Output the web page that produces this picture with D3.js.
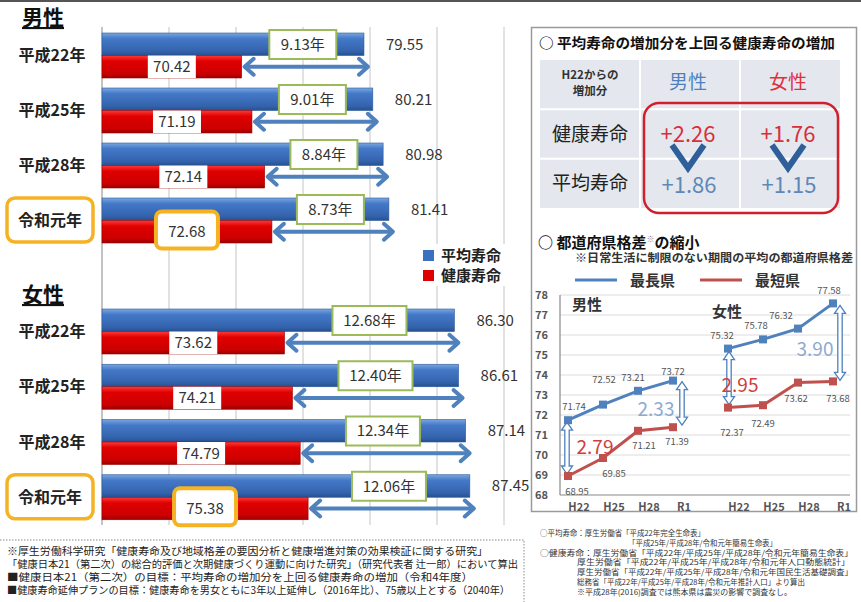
<!DOCTYPE html>
<html>
<head>
<meta charset="utf-8">
<script src="https://cdn.jsdelivr.net/npm/d3@7"></script>
<style>
  body { margin: 0; background: #fff; }
  svg { display: block; font-family: "Noto Sans CJK JP", "Noto Sans", sans-serif; }
</style>
</head>
<body>
<div id="chart"></div>
<script>
// ---- data: bar chart (left)
const years = ["平成22年", "平成25年", "平成28年", "令和元年"];
const maleAvg = [79.55, 80.21, 80.98, 81.41];
const maleHealthy = [70.42, 71.19, 72.14, 72.68];
const maleGap = [9.13, 9.01, 8.84, 8.73];
const femaleAvg = [86.30, 86.61, 87.14, 87.45];
const femaleHealthy = [73.62, 74.21, 74.79, 75.38];
const femaleGap = [12.68, 12.40, 12.34, 12.06];
const xTicks = [60, 65, 70, 75, 80, 85, 90];

// ---- data: table (top right)
const tableCols = ["男性", "女性"];
const tableRows = ["健康寿命", "平均寿命"];
const incHealthy = ["+2.26", "+1.76"];
const incAvg = ["+1.86", "+1.15"];

// ---- data: line chart (bottom right)
const periods = ["H22", "H25", "H28", "R1"];
const maleLongest = [71.74, 72.52, 73.21, 73.72];
const maleShortest = [68.95, 69.85, 71.21, 71.39];
const femaleLongest = [75.32, 75.78, 76.32, 77.58];
const femaleShortest = [72.37, 72.49, 73.62, 73.68];
const yTicks = [68, 69, 70, 71, 72, 73, 74, 75, 76, 77, 78];

const notesLeft = [
  "※厚生労働科学研究「健康寿命及び地域格差の要因分析と健康増進対策の効果検証に関する研究」",
  "「健康日本21（第二次）の総合的評価と次期健康づくり運動に向けた研究」（研究代表者 辻一郎）において算出",
  "■健康日本21（第二次）の目標：平均寿命の増加分を上回る健康寿命の増加（令和4年度）",
  "■健康寿命延伸プランの目標：健康寿命を男女ともに3年以上延伸し（2016年比）、75歳以上とする（2040年）"
];
const notesRight = [
  "○平均寿命：厚生労働省「平成22年完全生命表」",
  "「平成25年/平成28年/令和元年簡易生命表」",
  "○健康寿命：厚生労働省「平成22年/平成25年/平成28年/令和元年簡易生命表」",
  "厚生労働省「平成22年/平成25年/平成28年/令和元年人口動態統計」",
  "厚生労働省「平成22年/平成25年/平成28年/令和元年国民生活基礎調査」",
  "総務省「平成22年/平成25年/平成28年/令和元年推計人口」より算出",
  "※平成28年(2016)調査では熊本県は震災の影響で調査なし。"
];

const W = 861, H = 602;
const svg = d3.select("#chart").append("svg").attr("width", W).attr("height", H);
const defs = svg.append("defs");
function grad(id, stops) {
  const g = defs.append("linearGradient").attr("id", id)
    .attr("x1", 0).attr("y1", 0).attr("x2", 0).attr("y2", 1);
  stops.forEach(s => g.append("stop").attr("offset", s[0]).attr("stop-color", s[1]));
}
grad("gBlue", [[0, "#7aa6e0"], [0.25, "#4479c8"], [0.8, "#3463ad"], [1, "#26508f"]]);
grad("gRed", [[0, "#ff3a3a"], [0.25, "#e00000"], [0.8, "#cc0000"], [1, "#9a0000"]]);

svg.append("rect").attr("x", 0).attr("y", 0).attr("width", W).attr("height", 2).attr("fill", "#555");

// ================= left: bar chart =================
const x = d3.scaleLinear().domain([60, 90]).range([102, 504]);

svg.append("g").selectAll("line").data(xTicks).join("line")
  .attr("x1", d => x(d)).attr("x2", d => x(d))
  .attr("y1", 27).attr("y2", 525)
  .attr("stroke", d => d === 60 ? "#888" : "#c4c4c4").attr("stroke-width", 1);

// legend (white box hides grid lines)
svg.append("rect").attr("x", 418).attr("y", 244).attr("width", 98).attr("height", 42).attr("fill", "#fff");
[["平均寿命", "#3a70c0", 256], ["健康寿命", "#dd0000", 276]].forEach(l => {
  svg.append("rect").attr("x", 423).attr("y", l[2] - 6).attr("width", 11).attr("height", 11).attr("fill", l[1]);
  svg.append("text").attr("x", 441).attr("y", l[2] + 5).attr("font-size", 15).attr("font-weight", "bold")
    .attr("fill", "#222").text(l[0]);
});

const sections = [
  { title: "男性", titleY: 25, avg: maleAvg, healthy: maleHealthy, gap: maleGap, range: [33, 253] },
  { title: "女性", titleY: 302, avg: femaleAvg, healthy: femaleHealthy, gap: femaleGap, range: [309, 530] }
];

function arrowHead(g, px, py, dir) {
  g.append("polyline")
    .attr("points", `${px - dir * 9},${py - 8} ${px},${py} ${px - dir * 9},${py + 8}`)
    .attr("fill", "none").attr("stroke", "#4f81bd").attr("stroke-width", 4)
    .attr("stroke-linecap", "round").attr("stroke-linejoin", "round");
}

sections.forEach(sec => {
  const y = d3.scaleBand().domain(years).range(sec.range);
  const bh = 22.5;
  const g = svg.append("g");

  // title
  g.append("text").attr("x", 22).attr("y", sec.titleY).attr("font-size", 21).attr("font-weight", "bold")
    .attr("fill", "#111").attr("text-decoration", "underline").text(sec.title);

  years.forEach((yr, i) => {
    const y0 = y(yr);
    const last = i === years.length - 1;
    // category label
    if (last) {
      g.append("rect").attr("x", 7).attr("y", y0).attr("width", 86).attr("height", 44).attr("rx", 8)
        .attr("fill", "#fff").attr("stroke", "#f5b324").attr("stroke-width", 3.5);
    }
    g.append("text").attr("x", last ? 50 : 52).attr("y", y0 + bh).attr("dy", "0.35em")
      .attr("text-anchor", "middle").attr("font-size", 16).attr("font-weight", "bold").attr("fill", "#222")
      .text(yr);

    // bars
    g.append("rect").attr("x", x(60)).attr("y", y0).attr("width", x(sec.avg[i]) - x(60)).attr("height", bh)
      .attr("fill", "url(#gBlue)").attr("stroke", "#2d5a9a").attr("stroke-width", 0.6);
    g.append("rect").attr("x", x(60)).attr("y", y0 + bh).attr("width", x(sec.healthy[i]) - x(60)).attr("height", bh)
      .attr("fill", "url(#gRed)").attr("stroke", "#990000").attr("stroke-width", 0.6);

    // avg value
    g.append("text").attr("x", x(sec.avg[i]) + 22).attr("y", y0 + bh / 2).attr("dy", "0.35em")
      .attr("font-size", 15).attr("fill", "#333").text(sec.avg[i].toFixed(2));

    // healthy value box
    const hc = (x(60) + x(sec.healthy[i])) / 2;
    if (last) {
      g.append("rect").attr("x", hc - 31).attr("y", y0 + bh - 9).attr("width", 62).attr("height", 37).attr("rx", 6)
        .attr("fill", "#fff").attr("stroke", "#f5b324").attr("stroke-width", 4);
    }
    g.append("rect").attr("x", hc - 24).attr("y", y0 + bh).attr("width", 48).attr("height", bh).attr("fill", "#fff");
    g.append("text").attr("x", hc).attr("y", y0 + bh * 1.5).attr("dy", "0.36em").attr("text-anchor", "middle")
      .attr("font-size", 15).attr("fill", "#333").text(sec.healthy[i].toFixed(2));

    // gap arrow
    const ay = y0 + bh * 1.5;
    const ax1 = x(sec.healthy[i]) + 3, ax2 = x(sec.avg[i]) + 4;
    g.append("line").attr("x1", ax1 + 2).attr("x2", ax2 - 2).attr("y1", ay).attr("y2", ay)
      .attr("stroke", "#4f81bd").attr("stroke-width", 4);
    arrowHead(g, ax1, ay, -1);
    arrowHead(g, ax2, ay, 1);

    // gap label box
    const gc = (x(sec.healthy[i]) + x(sec.avg[i])) / 2;
    const gw = sec.gap[i] >= 10 ? 74 : 67;
    g.append("rect").attr("x", gc - gw / 2).attr("y", y0 - 3).attr("width", gw).attr("height", 29)
      .attr("fill", "#fff").attr("stroke", "#9bbb59").attr("stroke-width", 2);
    g.append("text").attr("x", gc).attr("y", y0 + 11.5).attr("dy", "0.36em").attr("text-anchor", "middle")
      .attr("font-size", 15).attr("fill", "#333").text(sec.gap[i].toFixed(2) + "年");
  });
});

// dotted footnote frame + notes
svg.append("path").attr("d", "M0,540 H524 V602").attr("fill", "none")
  .attr("stroke", "#888").attr("stroke-width", 1).attr("stroke-dasharray", "1.5,1.5");
const nlW = [481, 511, 466, 503];
notesLeft.forEach((t, i) => {
  svg.append("text").attr("x", 7).attr("y", 555 + i * 13).attr("font-size", 10.3).attr("fill", "#222")
    .attr("textLength", nlW[i]).attr("lengthAdjust", "spacingAndGlyphs").text(t);
});

// ================= right panel =================
svg.append("rect").attr("x", 531.5).attr("y", 27.5).attr("width", 325).attr("height", 484)
  .attr("fill", "#fff").attr("stroke", "#9a9a9a").attr("stroke-width", 1.5);

svg.append("text").attr("x", 539).attr("y", 48).attr("font-size", 14).attr("font-weight", "bold")
  .attr("fill", "#111").attr("textLength", 296).attr("lengthAdjust", "spacingAndGlyphs")
  .text("○ 平均寿命の増加分を上回る健康寿命の増加");

// table
const colX = d3.scaleBand().domain(["head"].concat(tableCols)).range([540, 840]);
const rowY = d3.scaleBand().domain(["head"].concat(tableRows)).range([60, 208]);
const tg = svg.append("g");
tg.append("rect").attr("x", 540).attr("y", 60).attr("width", 300).attr("height", 148).attr("fill", "#e4e8ee");
colX.domain().slice(1).forEach(c => tg.append("line").attr("x1", colX(c)).attr("x2", colX(c))
  .attr("y1", 60).attr("y2", 208).attr("stroke", "#fff").attr("stroke-width", 2));
rowY.domain().slice(1).forEach(r => tg.append("line").attr("x1", 540).attr("x2", 840)
  .attr("y1", rowY(r)).attr("y2", rowY(r)).attr("stroke", "#fff").attr("stroke-width", 2));
const hx = colX("head") + colX.bandwidth() / 2;
tg.append("text").attr("x", hx).attr("y", 79).attr("text-anchor", "middle").attr("font-size", 11.5)
  .attr("font-weight", "bold").attr("fill", "#333").text("H22からの");
tg.append("text").attr("x", hx).attr("y", 95).attr("text-anchor", "middle").attr("font-size", 11.5)
  .attr("font-weight", "bold").attr("fill", "#333").text("増加分");
const headColors = ["#4f81bd", "#e0303a"];
tableCols.forEach((c, i) => {
  tg.append("text").attr("x", colX(c) + colX.bandwidth() / 2 - 2).attr("y", 89).attr("text-anchor", "middle")
    .attr("font-size", 19).attr("fill", headColors[i]).text(c);
});
tableRows.forEach(r => {
  tg.append("text").attr("x", hx).attr("y", rowY(r) + rowY.bandwidth() / 2 + 7).attr("text-anchor", "middle")
    .attr("font-size", 19).attr("fill", "#222").text(r);
});
tableCols.forEach((c, i) => {
  const cx = colX(c) + colX.bandwidth() / 2 - 2;
  tg.append("text").attr("x", cx).attr("y", rowY("健康寿命") + rowY.bandwidth() / 2 + 8).attr("text-anchor", "middle")
    .attr("font-size", 22).attr("fill", "#d8303a").text(incHealthy[i]);
  tg.append("text").attr("x", cx + 1).attr("y", rowY("平均寿命") + rowY.bandwidth() / 2 + 10).attr("text-anchor", "middle")
    .attr("font-size", 22).attr("fill", "#5f88b8").text(incAvg[i]);
  tg.append("polyline").attr("points", `${cx - 16},145 ${cx},168 ${cx + 16},145`)
    .attr("fill", "none").attr("stroke", "#2f5f9a").attr("stroke-width", 6);
});
tg.append("rect").attr("x", 644).attr("y", 103).attr("width", 194).attr("height", 110).attr("rx", 15)
  .attr("fill", "none").attr("stroke", "#d0202e").attr("stroke-width", 2.5);

// line chart
const lc = svg.append("g");
const titleT = lc.append("text").attr("x", 538).attr("y", 248).attr("font-size", 15).attr("font-weight", "bold").attr("fill", "#111");
titleT.append("tspan").text("○ 都道府県格差");
titleT.append("tspan").attr("font-size", 8).attr("dy", -6).attr("fill", "#888").text("※");
titleT.append("tspan").attr("dy", 6).text("の縮小");
lc.append("text").attr("x", 575).attr("y", 262).attr("font-size", 11.5).attr("font-weight", "bold").attr("fill", "#333")
  .attr("textLength", 278).attr("lengthAdjust", "spacingAndGlyphs").text("※日常生活に制限のない期間の平均の都道府県格差");
[["最長県", "#4f81bd", 575], ["最短県", "#c0504d", 700]].forEach(l => {
  lc.append("line").attr("x1", l[2]).attr("x2", l[2] + 42).attr("y1", 280).attr("y2", 280)
    .attr("stroke", l[1]).attr("stroke-width", 3);
  lc.append("text").attr("x", l[2] + 55).attr("y", 286).attr("font-size", 15).attr("font-weight", "bold")
    .attr("fill", "#333").text(l[0]);
});

const ly = d3.scaleLinear().domain([68, 78]).range([495, 295]);
const xm = d3.scalePoint().domain(periods).range([568, 673]);
const xf = d3.scalePoint().domain(periods).range([728, 833]);

lc.selectAll(".grid").data(yTicks).join("line").attr("class", "grid")
  .attr("x1", 560).attr("x2", 850).attr("y1", d => ly(d)).attr("y2", d => ly(d))
  .attr("stroke", d => d === 68 ? "#888" : "#dcdcdc").attr("stroke-width", d => d === 68 ? 1.2 : 1);
lc.append("line").attr("x1", 560).attr("x2", 560).attr("y1", ly(78)).attr("y2", ly(68)).attr("stroke", "#888").attr("stroke-width", 1.2);
lc.selectAll(".yl").data(yTicks).join("text").attr("class", "yl")
  .attr("x", 548).attr("y", d => ly(d)).attr("dy", "0.35em").attr("text-anchor", "end")
  .attr("font-size", 11).attr("font-weight", "bold").attr("fill", "#555").text(d => d);

[xm, xf].forEach(sc => {
  lc.selectAll(null).data(periods).join("text")
    .attr("x", d => sc(d) + 11).attr("y", 511).attr("text-anchor", "middle")
    .attr("font-size", 11).attr("font-weight", "bold").attr("fill", "#555").text(d => d);
});

lc.append("text").attr("x", 572).attr("y", 310).attr("font-size", 15).attr("font-weight", "bold").attr("fill", "#333").text("男性");
lc.append("text").attr("x", 712).attr("y", 317).attr("font-size", 15).attr("font-weight", "bold").attr("fill", "#333").text("女性");

function hollowArrow(cx, y1, y2) {
  const hw = 5.5, sw = 2.2, hl = 8;
  lc.append("path")
    .attr("d", `M${cx},${y1} L${cx + hw},${y1 + hl} L${cx + sw},${y1 + hl} L${cx + sw},${y2 - hl} L${cx + hw},${y2 - hl} L${cx},${y2} L${cx - hw},${y2 - hl} L${cx - sw},${y2 - hl} L${cx - sw},${y1 + hl} L${cx - hw},${y1 + hl} Z`)
    .attr("fill", "#fff").attr("stroke", "#4f81bd").attr("stroke-width", 1.3);
}
hollowArrow(xm("H22") - 1, ly(maleLongest[0]) + 2, ly(maleShortest[0]) - 2);
hollowArrow(xm("R1") + 9, ly(maleLongest[3]) + 1, ly(maleShortest[3]) - 2);
hollowArrow(xf("H22") + 1, ly(femaleLongest[0]) + 3, ly(femaleShortest[0]) - 3);
hollowArrow(xf("R1") + 7, ly(femaleLongest[3]) + 2, ly(femaleShortest[3]) - 1);

const line = sc => d3.line().x((d, i) => sc(periods[i])).y(d => ly(d));
const series = [
  { sc: xm, v: maleLongest, c: "#4f81bd", lab: [[6, -14], [1, -25], [-5, -13], [0, -9]] },
  { sc: xm, v: maleShortest, c: "#c0504d", lab: [[9, 16], [11, 16], [6, 15], [4, 14]] },
  { sc: xf, v: femaleLongest, c: "#4f81bd", lab: [[-6, -13], [-7, -14], [-17, -13], [-4, -13]] },
  { sc: xf, v: femaleShortest, c: "#c0504d", lab: [[4, 25], [0, 18], [-2, 16], [5, 17]] }
];
series.forEach(s => {
  lc.append("path").datum(s.v).attr("d", line(s.sc)).attr("fill", "none")
    .attr("stroke", s.c).attr("stroke-width", 3);
  lc.selectAll(null).data(s.v).join("rect")
    .attr("x", (d, i) => s.sc(periods[i]) - 4).attr("y", d => ly(d) - 4)
    .attr("width", 8).attr("height", 8).attr("fill", s.c);
  lc.selectAll(null).data(s.v).join("text")
    .attr("x", (d, i) => s.sc(periods[i]) + s.lab[i][0]).attr("y", (d, i) => ly(d) + s.lab[i][1])
    .attr("dy", "0.35em").attr("text-anchor", "middle").attr("font-size", 9.5).attr("fill", "#555")
    .text(d => d.toFixed(2));
});

// gap numbers
const gapLabel = (t, cx, by, c) => lc.append("text").attr("x", cx).attr("y", by).attr("text-anchor", "middle")
  .attr("font-size", 19).attr("fill", c).text(t);
gapLabel((maleLongest[0] - maleShortest[0]).toFixed(2), 595, 454, "#d0403c");
gapLabel((maleLongest[3] - maleShortest[3]).toFixed(2), 656, 416, "#8eaad0");
gapLabel((femaleLongest[0] - femaleShortest[0]).toFixed(2), 740, 392, "#d0403c");
gapLabel((femaleLongest[3] - femaleShortest[3]).toFixed(2), 815, 356, "#8eaad0");

// right notes
const nrX = [540, 628, 540, 577, 577, 577, 577];
const nrW = [165, 149, 313, 273, 276, 228, 215];
notesRight.forEach((t, i) => {
  svg.append("text").attr("x", nrX[i]).attr("y", 536 + i * 9.8).attr("font-size", 7.8).attr("fill", "#333")
    .attr("textLength", nrW[i]).attr("lengthAdjust", "spacingAndGlyphs").text(t);
});
</script>
</body>
</html>
